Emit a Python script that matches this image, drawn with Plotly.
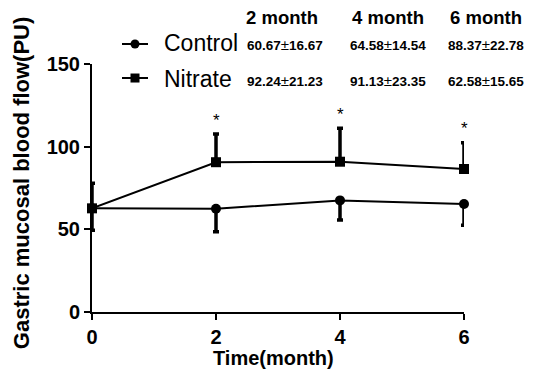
import plotly.graph_objects as go

months = [0, 2, 4, 6]
control_mean = [62.7, 62.5, 67.5, 65.3]
control_sd = [13.2, 14, 11.8, 12.8]
nitrate_mean = [62.7, 90.6, 90.9, 86.5]
nitrate_sd = [15.1, 17, 20.3, 15.9]
star_months = [2, 4, 6]
y_ticks = [0, 50, 100, 150]
x_ticks = [0, 2, 4, 6]

table_headers = ["2 month", "4 month", "6 month"]
control_table = [("60.67", "16.67"), ("64.58", "14.54"), ("88.37", "22.78")]
nitrate_table = [("92.24", "21.23"), ("91.13", "23.35"), ("62.58", "15.65")]

FONT = "Arial, Liberation Sans, sans-serif"
PAGE_W, PAGE_H = 534, 381
OFF = 8  # default body margin of the html page
X0, X1, Y0, Y1 = 92, 464, 64, 311.7  # plot area in page pixels
W, H = PAGE_W - OFF, PAGE_H - 2 * OFF
L, T = X0 - OFF, Y0 - OFF
R, B = W + OFF - X1, H + OFF - Y1
pw, ph = X1 - X0, Y1 - Y0


def px(x):
    return (x - X0) / pw


def py(y):
    return (Y1 - y) / ph


fig = go.Figure()
fig.add_trace(go.Scatter(
    x=months, y=control_mean, mode="lines+markers", name="Control",
    line=dict(color="black", width=2),
    marker=dict(symbol="circle", size=10, color="black"),
    error_y=dict(type="data", symmetric=False, array=[0] * 4, arrayminus=control_sd,
                 color="black", thickness=3.5, width=3),
    cliponaxis=False, showlegend=False,
))
fig.add_trace(go.Scatter(
    x=months, y=nitrate_mean, mode="lines+markers", name="Nitrate",
    line=dict(color="black", width=2),
    marker=dict(symbol="square", size=10, color="black"),
    error_y=dict(type="data", symmetric=False, array=nitrate_sd, arrayminus=[0] * 4,
                 color="black", thickness=3.5, width=3),
    cliponaxis=False, showlegend=False,
))

annotations = []


def note(x, y, text, size, xanchor="center", bold=False, angle=0):
    return dict(x=px(x), y=py(y), xref="paper", yref="paper",
                text=("<b>%s</b>" % text) if bold else text,
                showarrow=False, xanchor=xanchor, yanchor="middle", textangle=angle,
                font=dict(family=FONT, size=size, color="black"))


# significance stars
for m in star_months:
    i = months.index(m)
    annotations.append(dict(x=m, y=nitrate_mean[i] + nitrate_sd[i], xref="x", yref="y",
                            text="*", showarrow=False, xanchor="center", yanchor="middle",
                            yshift=14, font=dict(family=FONT, size=17, color="black")))


def val(pair):
    return ("<b>%s</b><span style='font-size:15px'>\u00b1</span><b>%s</b>" % pair)


# table
head_x = [244, 350, 448]
val_x = [245, 348, 446]
for hx, vx, h, c, n in zip(head_x, val_x, table_headers, control_table, nitrate_table):
    annotations.append(note(hx, 18, h, 18.5, xanchor="left", bold=True))
    annotations.append(note(vx, 45, val(c), 13.5, xanchor="left"))
    annotations.append(note(vx, 80.5, val(n), 13.5, xanchor="left"))

# legend text
for name, yy in [("Control", 43.5), ("Nitrate", 79)]:
    annotations.append(note(162, yy, name, 23, xanchor="left"))

# axis titles
annotations.append(note(21, 183, "Gastric mucosal blood flow(PU)", 22, bold=True, angle=-90))
annotations.append(note(273, 358, "Time(month)", 20, bold=True))

shapes = []
for yy, sym in [(44, "circle"), (78, "square")]:
    shapes.append(dict(type="line", xref="paper", yref="paper", x0=px(122), x1=px(148),
                       y0=py(yy), y1=py(yy), line=dict(color="black", width=2)))
    shapes.append(dict(type="circle" if sym == "circle" else "rect", xref="paper", yref="paper",
                       x0=px(130.5), x1=px(139.5), y0=py(yy - 4.5), y1=py(yy + 4.5),
                       fillcolor="black", line=dict(color="black", width=0)))

fig.update_layout(
    width=W, height=H,
    margin=dict(l=L, r=R, t=T, b=B, pad=0),
    plot_bgcolor="white", paper_bgcolor="white",
    font=dict(family=FONT, color="black"),
    xaxis=dict(range=[0, 6], tickvals=x_ticks, ticktext=["<b>%d</b>" % v for v in x_ticks],
               showgrid=False, zeroline=False, showline=True, linecolor="black", linewidth=2,
               ticks="outside", ticklen=6, tickwidth=2, tickcolor="black",
               tickfont=dict(family=FONT, size=20, color="black")),
    yaxis=dict(range=[0, 150], tickvals=y_ticks, ticktext=["<b>%d</b>" % v for v in y_ticks],
               showgrid=False, zeroline=False, showline=True, linecolor="black", linewidth=2,
               ticks="outside", ticklen=6, tickwidth=2, tickcolor="black",
               tickfont=dict(family=FONT, size=20, color="black")),
    annotations=annotations,
    shapes=shapes,
)

fig.write_html("out.html")
